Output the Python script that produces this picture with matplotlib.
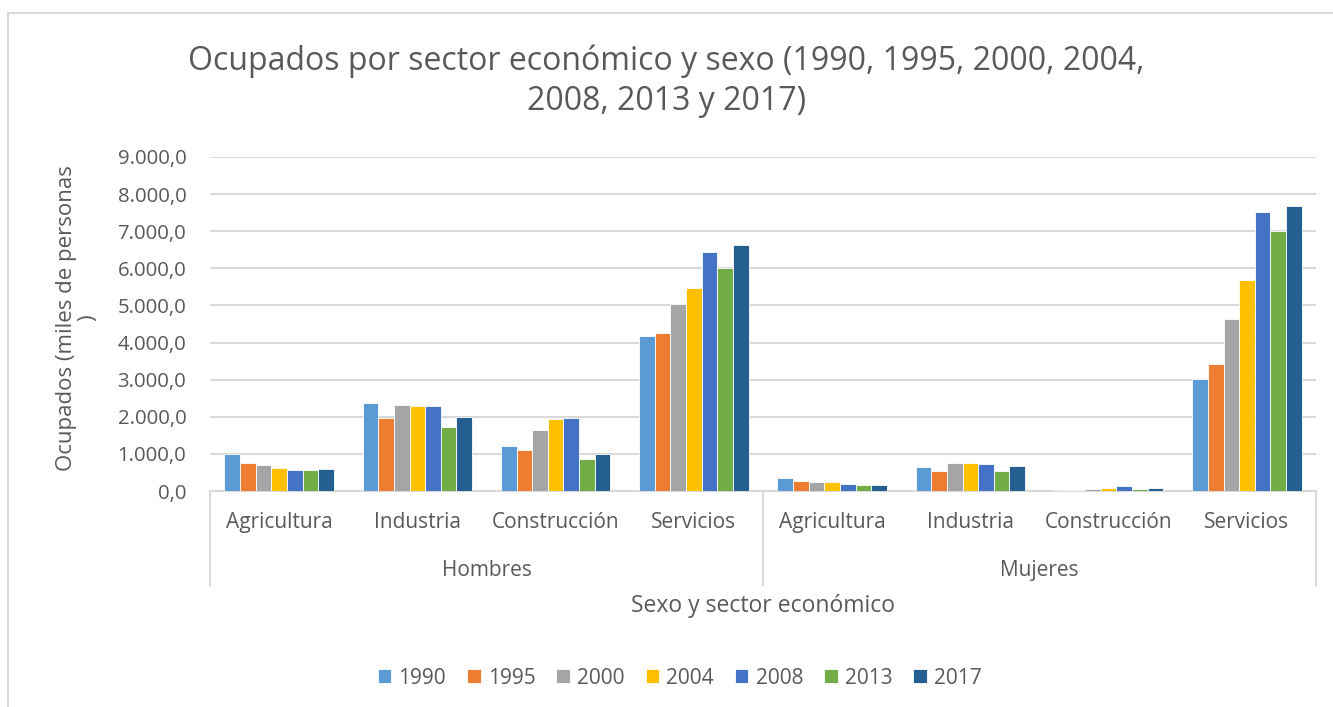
import matplotlib.pyplot as plt
import numpy as np
from matplotlib.lines import Line2D
from matplotlib.patches import Rectangle
from matplotlib.ticker import FuncFormatter
import matplotlib.transforms as mtransforms

plt.rcParams['font.family'] = ['Open Sans', 'DejaVu Sans']

sexes = ['Hombres', 'Mujeres']
sectors = ['Agricultura', 'Industria', 'Construcción', 'Servicios']
years = ['1990', '1995', '2000', '2004', '2008', '2013', '2017']

# miles de personas, order: Hombres x 4 sectores, Mujeres x 4 sectores
v1990 = [1000, 2360, 1225, 4180, 360, 640, 27, 3020]
v1995 = [750, 1980, 1110, 4270, 260, 540, 36, 3435]
v2000 = [710, 2330, 1635, 5050, 250, 766, 63, 4630]
v2004 = [630, 2300, 1930, 5480, 234, 766, 90, 5695]
v2008 = [565, 2300, 1975, 6450, 198, 730, 144, 7515]
v2013 = [555, 1735, 870, 6000, 162, 540, 63, 6995]
v2017 = [590, 1995, 1005, 6620, 171, 667, 81, 7675]

series = [v1990, v1995, v2000, v2004, v2008, v2013, v2017]
colors = ['#5B9BD5', '#ED7D31', '#A5A5A5', '#FFC000',
          '#4472C4', '#70AD47', '#255E91']

text_color = '#595959'
grid_color = '#D9D9D9'

fig = plt.figure(figsize=(13.33, 7.07), dpi=100)
ax = fig.add_axes([0.1575, 0.3055, 0.8298, 0.4725])

# outer chart border
fig.patches.append(Rectangle((8 / 1333, -0.05), 1.1, 1 - 13 / 707 + 0.05,
                             transform=fig.transFigure, fill=False,
                             edgecolor=grid_color, linewidth=1.5))

n_cat = len(sexes) * len(sectors)
x = np.arange(n_cat)
width = 0.113
for i, (vals, col, yr) in enumerate(zip(series, colors, years)):
    offset = (i - (len(years) - 1) / 2) * width
    ax.bar(x + offset, vals, width, color=col, label=yr,
           edgecolor='white', linewidth=0.6, zorder=3)

ax.set_xlim(-0.5, n_cat - 0.5)
ax.set_ylim(0, 9000)
ax.set_yticks(np.arange(0, 9001, 1000))
ax.yaxis.set_major_formatter(FuncFormatter(
    lambda v, p: f'{v:,.1f}'.replace(',', 'X').replace('.', ',').replace('X', '.')))
ax.tick_params(axis='y', length=0, labelsize=14.7, labelcolor=text_color, pad=17)
ax.grid(axis='y', color=grid_color, linewidth=1.5, zorder=0)
ax.set_xticks([])
for side in ['top', 'right', 'left']:
    ax.spines[side].set_visible(False)
ax.spines['bottom'].set_color(grid_color)
ax.spines['bottom'].set_linewidth(1.5)

# multi-level category axis
trans = mtransforms.blended_transform_factory(ax.transData, ax.transAxes)
labels = [s for _ in sexes for s in sectors]
for xi, lab in zip(x, labels):
    ax.text(xi, -0.093, lab, transform=trans, ha='center', va='center',
            fontsize=15, color=text_color)
for j, sex in enumerate(sexes):
    center = j * len(sectors) + (len(sectors) - 1) / 2
    ax.text(center, -0.237, sex, transform=trans, ha='center', va='center',
            fontsize=15, color=text_color)
for b in range(len(sexes) + 1):
    xb = b * len(sectors) - 0.5
    ax.add_line(Line2D([xb, xb], [0, -0.282], transform=trans,
                       color=grid_color, linewidth=1.5, clip_on=False))

ax.text(0.5, -0.345, 'Sexo y sector económico', transform=ax.transAxes,
        ha='center', va='center', fontsize=16.5, color=text_color)
fig.text(0.058, 0.55, 'Ocupados (miles de personas\n)', rotation=90,
         ha='center', va='center', fontsize=16, color=text_color,
         multialignment='center', linespacing=1.0)

fig.text(0.5, 0.885, 'Ocupados por sector económico y sexo (1990, 1995, 2000, 2004,\n'
         '2008, 2013 y 2017)', ha='center', va='center', fontsize=23,
         color=text_color, linespacing=1.25)

leg = fig.legend(loc='center', bbox_to_anchor=(0.51, 0.041), ncol=len(years),
                 frameon=False, fontsize=15, handlelength=0.65,
                 handleheight=0.65, handletextpad=0.35, columnspacing=1.0)
for t in leg.get_texts():
    t.set_color(text_color)

fig.savefig('out.png', dpi=100)
